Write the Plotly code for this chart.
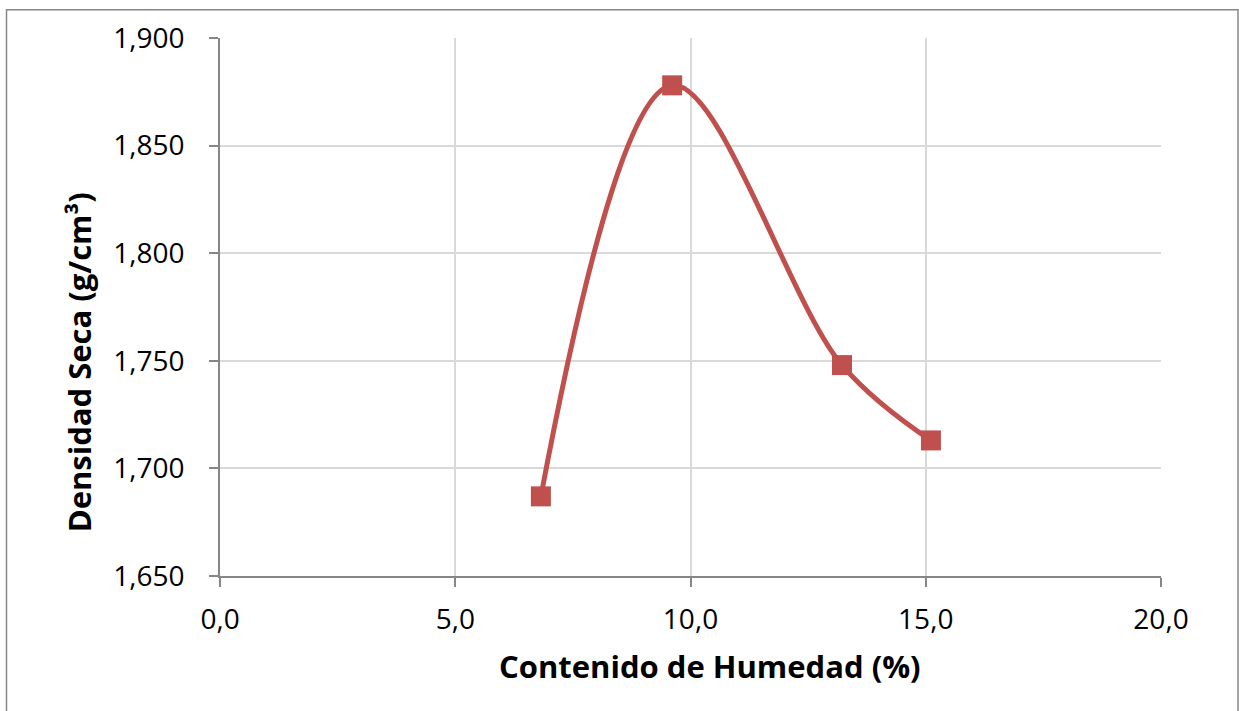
import plotly.graph_objects as go

# Compaction test: moisture content vs dry density
humedad = [6.82, 9.61, 13.22, 15.11]          # %
densidad = [1.687, 1.878, 1.748, 1.713]       # g/cm3

x_ticks = [0, 5, 10, 15, 20]
x_tick_text = ["0,0", "5,0", "10,0", "15,0", "20,0"]
y_ticks = [1.65, 1.70, 1.75, 1.80, 1.85, 1.90]
y_tick_text = ["1,650", "1,700", "1,750", "1,800", "1,850", "1,900"]

RED = "#C0504D"
AXIS = "#868686"
GRID = "#D9D9D9"
FONT = "Open Sans"

fig = go.Figure()
fig.add_trace(go.Scatter(
    x=humedad, y=densidad,
    mode="lines+markers",
    line=dict(color=RED, width=5, shape="spline", smoothing=1.0),
    marker=dict(symbol="square", size=20, color=RED),
    showlegend=False,
    hoverinfo="x+y",
))

fig.update_xaxes(
    range=[0, 20], tickvals=x_ticks, ticktext=x_tick_text,
    showgrid=True, gridcolor=GRID, gridwidth=1.5,
    showline=True, linecolor=AXIS, linewidth=1.5,
    ticks="outside", ticklen=9, tickcolor=AXIS, tickwidth=1.5,
    ticklabelstandoff=9,
    tickfont=dict(family=FONT, size=28, color="#000000"),
    zeroline=False,
)
fig.update_yaxes(
    range=[1.65, 1.90], tickvals=y_ticks, ticktext=y_tick_text,
    showgrid=True, gridcolor=GRID, gridwidth=1.5,
    showline=True, linecolor=AXIS, linewidth=1.5,
    ticks="outside", ticklen=9, tickcolor=AXIS, tickwidth=1.5,
    ticklabelstandoff=19,
    tickfont=dict(family=FONT, size=28, color="#000000"),
    zeroline=False,
)

plot_w = 1161 - 220
plot_h = 575.7 - 37.7

def px_x(px):
    return (px - 220) / plot_w

def px_y(py):
    return (575.7 - py) / plot_h

fig.add_annotation(
    text="<b>Contenido de Humedad (%)</b>",
    xref="paper", yref="paper", x=px_x(710), y=px_y(666),
    showarrow=False, xanchor="center", yanchor="middle",
    font=dict(family=FONT, size=31, color="#000000"),
)
fig.add_annotation(
    text="<b>Densidad Seca (g/cm³)</b>",
    xref="paper", yref="paper", x=px_x(79), y=px_y(362),
    showarrow=False, xanchor="center", yanchor="middle", textangle=-90,
    font=dict(family=FONT, size=31, color="#000000"),
)

# chart frame
fig.add_shape(
    type="rect", xref="paper", yref="paper",
    x0=px_x(6.5), x1=px_x(1238), y0=px_y(730), y1=px_y(9.5),
    line=dict(color=AXIS, width=1.5), fillcolor="rgba(0,0,0,0)",
    layer="below",
)

fig.update_layout(
    width=1239, height=711,
    margin=dict(l=220, r=78, t=37.7, b=135.3),
    paper_bgcolor="white", plot_bgcolor="white",
    font=dict(family=FONT),
)

fig.write_html("out.html")
